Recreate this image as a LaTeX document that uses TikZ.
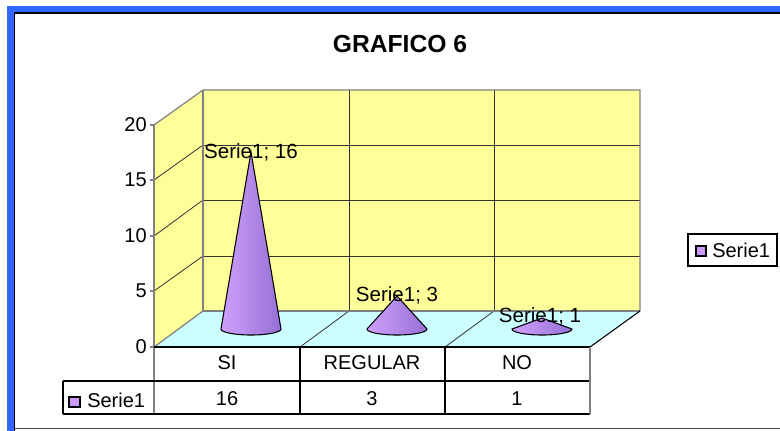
\documentclass[tikz,border=0pt]{standalone}
\usepackage{fontspec}
\setmainfont{Liberation Sans}

\definecolor{frameblue}{RGB}{51,102,255}
\definecolor{wallyellow}{RGB}{255,255,153}
\definecolor{floorcyan}{RGB}{204,255,255}
\definecolor{conelight}{RGB}{206,160,250}
\definecolor{conedark}{RGB}{150,112,214}
\definecolor{swatch}{RGB}{204,153,255}
\definecolor{edgegray}{RGB}{128,128,128}

\tikzset{
  lbl/.style={font=\fontsize{15}{17}\selectfont, inner sep=0pt},
  datalbl/.style={font=\fontsize{15.4}{17}\selectfont, inner sep=0pt},
  ttl/.style={font=\fontsize{18.5}{21}\selectfont\bfseries, inner sep=0pt},
  wall/.style={draw=edgegray, line width=0.9pt},
  grid/.style={draw=black!80, line width=0.6pt},
  cone/.style={left color=conelight, right color=conedark, draw=black, line width=0.8pt}
}

\newcommand{\drawcone}[2]{%
  \shade[cone] (#1-30,329) -- (#1,#2) -- (#1+30,329)
    arc[start angle=0, end angle=180, x radius=30, y radius=6] -- cycle;}

\begin{document}
\begin{tikzpicture}[x=0.75pt, y=-0.75pt]
    \useasboundingbox (0,0) rectangle (780,430);
    \clip (0,0) rectangle (780,430);

    \fill[frameblue] (7,6) rectangle (790,13);
    \fill[frameblue] (7,6) rectangle (14,440);
    \draw[black, line width=1.2pt] (14.5,440) -- (14.5,12.8) -- (790,12.8);
    \draw[black!70, line width=1pt] (14.5,428.3) -- (790,428.3);

    \node[ttl] (title) at (400,44) {GRAFICO 6};

    \fill[wallyellow] (203,90) rectangle (640,311);
    \fill[wallyellow] (154,125) -- (203,90) -- (203,311) -- (154,347) -- cycle;
    \fill[floorcyan] (154,347) -- (203,311) -- (640,311) -- (590,347) -- cycle;

    \draw[grid] (203,145) -- (640,145);
    \draw[grid] (203,200) -- (640,200);
    \draw[grid] (203,256) -- (640,256);
    \draw[grid] (349,90) -- (349,311);
    \draw[grid] (494,90) -- (494,311);
    \draw[grid] (154,180) -- (203,145);
    \draw[grid] (154,236) -- (203,200);
    \draw[grid] (154,291) -- (203,256);
    \draw[grid] (300,347) -- (349,311);
    \draw[grid] (445,347) -- (494,311);

    \draw[wall] (154,125) -- (203,90) -- (640,90) -- (640,311);
    \draw[wall] (203,90) -- (203,311) -- (640,311);
    \draw[wall] (154,347) -- (203,311);
    \draw[black, line width=0.8pt] (590,347) -- (640,311);

    \draw[wall] (154,125) -- (154,414);
    \draw[wall] (150,125) -- (154,125);
    \draw[wall] (150,180) -- (154,180);
    \draw[wall] (150,236) -- (154,236);
    \draw[wall] (150,291) -- (154,291);
    \draw[wall] (150,347) -- (154,347);

    \node[lbl, anchor=east] (y20) at (147,125) {20};
    \node[lbl, anchor=east] (y15) at (147,180) {15};
    \node[lbl, anchor=east] (y10) at (147,236) {10};
    \node[lbl, anchor=east] (y5) at (147,291) {5};
    \node[lbl, anchor=east] (y0) at (147,347) {0};

    \drawcone{251}{152}
    \drawcone{397}{296}
    \drawcone{542}{318}

    \node[datalbl] (valsi) at (251,152) {Serie1; 16};
    \node[datalbl] (valreg) at (397,295) {Serie1; 3};
    \node[datalbl] (valno) at (540,316) {Serie1; 1};

    \draw[black, line width=0.9pt] (154,347) -- (590,347);
    \draw[black, line width=0.8pt] (63,381) -- (590,381);
    \draw[black, line width=0.8pt] (63,414) -- (590,414);
    \draw[black, line width=0.8pt] (63,381) -- (63,414);
    \draw[black, line width=0.8pt] (300,347) -- (300,414);
    \draw[black, line width=0.8pt] (445,347) -- (445,414);
    \draw[wall] (590,347) -- (590,414);

    \node[lbl] (catsi) at (227,363) {SI};
    \node[lbl] (catreg) at (372,363) {REGULAR};
    \node[lbl] (catno) at (517,363) {NO};

    \filldraw[fill=swatch, draw=black, line width=0.8pt] (69,397) rectangle (80,407);
    \node[lbl, anchor=west] (serietab) at (87,400) {Serie1};
    \node[lbl] (numsi) at (227,399) {16};
    \node[lbl] (numreg) at (372,399) {3};
    \node[lbl] (numno) at (517,399) {1};

    \filldraw[fill=white, draw=black, line width=0.8pt] (688,234) rectangle (777,266);
    \filldraw[fill=swatch, draw=black, line width=0.8pt] (696,246) rectangle (706,256);
    \node[lbl, anchor=west] (serieleg) at (712,250) {Serie1};
\end{tikzpicture}
\end{document}
